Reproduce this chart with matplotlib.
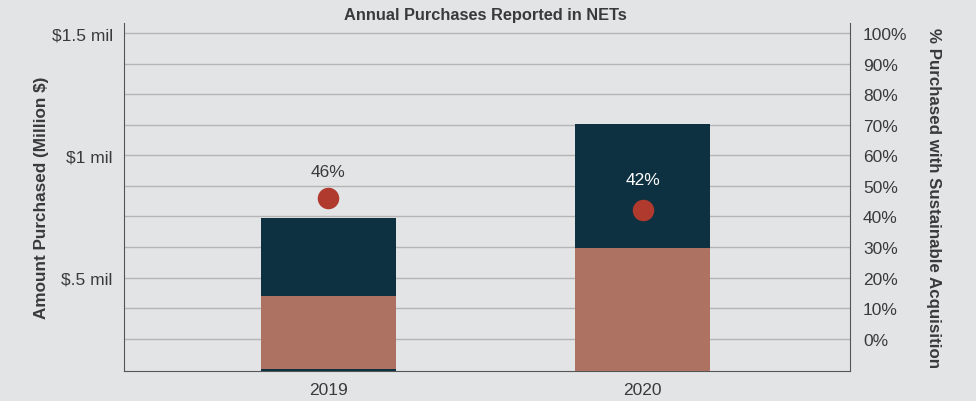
import matplotlib.pyplot as plt

plt.rcParams["font.family"] = ["Liberation Sans", "DejaVu Sans"]

years = ["2019", "2020"]
base_mil = [0.125, 0.0]
lower_mil = [0.300, 0.621]
upper_mil = [0.319, 0.505]
pct_sustainable = [46, 42]
pct_labels = ["46%", "42%"]

bg = "#e3e4e6"
navy = "#0e3141"
tan = "#ad7261"
red = "#b03a2e"
txt = "#3a3a3a"

fig = plt.figure(figsize=(9.76, 4.02), dpi=100, facecolor=bg)
ax = fig.add_axes([0.127, 0.0746, 0.7443, 0.8645])
ax.set_facecolor(bg)
ax2 = ax.twinx()

x = range(len(years))
w = 0.43
ax.bar(x, base_mil, width=w, color=navy, zorder=3)
ax.bar(x, lower_mil, width=w, bottom=base_mil, color=tan, zorder=3)
bottoms = [a + b for a, b in zip(base_mil, lower_mil)]
ax.bar(x, upper_mil, width=w, bottom=bottoms, color=navy, zorder=3)

ax.set_xlim(-0.651, 1.661)
ax.set_ylim(0.1165, 1.539)
ax.set_yticks([0.5, 1.0, 1.5])
ax.set_yticklabels(["$.5 mil", "$1 mil", "$1.5 mil"])
ax.set_xticks(list(x))
ax.set_xticklabels(years)

ax2.set_ylim(-10.57, 103.1)
ax2.set_yticks(range(0, 101, 10))
ax2.set_yticklabels([f"{v}%" for v in range(0, 101, 10)])
ax2.grid(axis="y", color="#b5b5b5", linewidth=1, zorder=0)
ax2.set_axisbelow(True)
ax.set_zorder(ax2.get_zorder() + 1)
ax.patch.set_visible(False)
ax2.patch.set_visible(True)
ax2.patch.set_facecolor(bg)

# dots sit on the percent scale, drawn on top of bars
for i, p in enumerate(pct_sustainable):
    ymil = ax.transData.inverted().transform(ax2.transData.transform((i, p)))[1]
    ax.scatter(i, ymil, s=240, color=red, zorder=5, linewidths=0)
    col = txt if i == 0 else "white"
    off = 19 if i == 0 else 22.5
    ax.annotate(pct_labels[i], (i, ymil), xytext=(0, off), textcoords="offset points",
                ha="center", va="center", fontsize=12.5, color=col, zorder=6)

for a in (ax, ax2):
    for s in a.spines.values():
        s.set_visible(False)
    a.tick_params(length=0, colors=txt, labelsize=12.5)
for name in ("left", "bottom"):
    ax.spines[name].set_visible(True)
    ax.spines[name].set_color("#555555")
ax2.spines["right"].set_visible(True)
ax2.spines["right"].set_color("#555555")
ax.tick_params(axis="y", pad=8)
ax.tick_params(axis="x", pad=8)
ax2.tick_params(axis="y", pad=9)

ax.set_ylabel("Amount Purchased (Million $)", fontsize=12.3, fontweight="bold", color=txt,
              va="center")
ax.yaxis.set_label_coords(-0.113, 0.5)
ax2.set_ylabel("% Purchased with Sustainable Acquisition", fontsize=12.2, fontweight="bold",
               color=txt, rotation=270, va="center")
ax2.yaxis.set_label_coords(1.115, 0.5)
fig.text(0.497, 0.962, "Annual Purchases Reported in NETs", ha="center", va="center",
         fontsize=11.8, fontweight="bold", color=txt)

fig.savefig("out.png", dpi=100, facecolor=bg)
